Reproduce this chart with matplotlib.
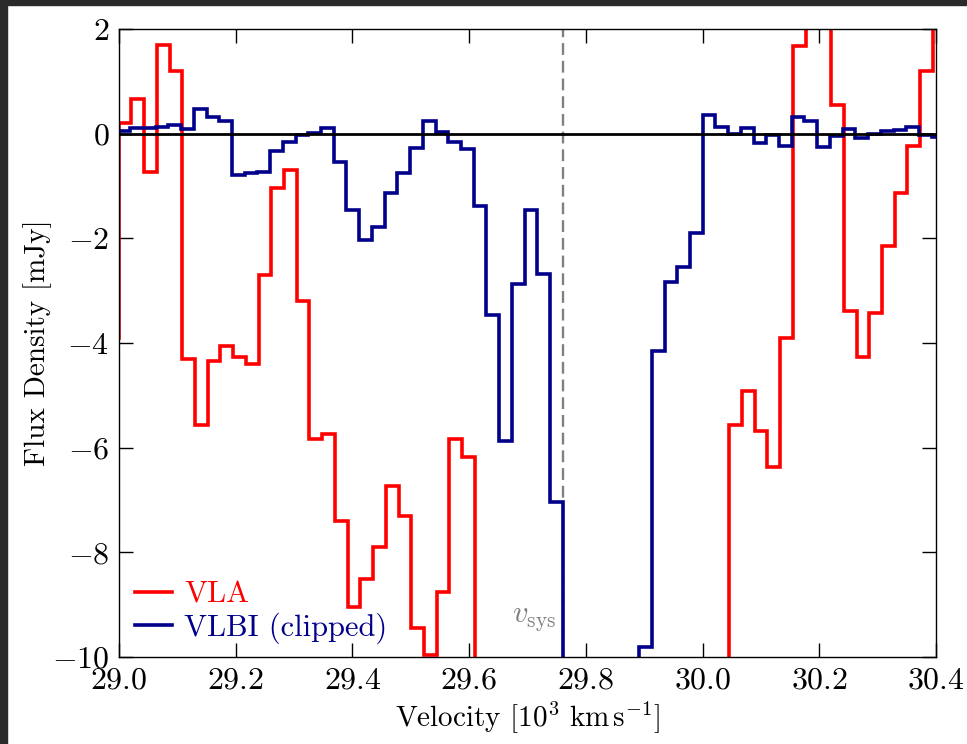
import numpy as np
import matplotlib
matplotlib.use("Agg")
import matplotlib.pyplot as plt
from matplotlib.patches import Rectangle

plt.rcParams['font.family'] = 'serif'
plt.rcParams['font.serif'] = ['cmr10', 'DejaVu Serif']
plt.rcParams['mathtext.fontset'] = 'cm'
plt.rcParams['axes.formatter.use_mathtext'] = True

# channel grid (10^3 km/s)
chan_width = 0.0218
vlbi_start = 28.9974
vla_start = vlbi_start - chan_width + 0.002

# VLA spectrum (mJy), values below -10 / above 2 are off the plot
vla_flux = [-3.90, 0.20, 0.67, -0.73, 1.69, 1.20, -4.31, -5.57, -4.34, -4.05,
            -4.27, -4.41, -2.71, -1.04, -0.69, -3.20, -5.83, -5.73, -7.41, -9.04,
            -8.50, -7.90, -6.73, -7.30, -9.45, -9.96, -8.75, -5.84, -6.18,
            -11.0, -11.0, -11.0, -11.0, -11.0, -11.0, -11.0, -11.0, -11.0, -11.0,
            -11.0, -11.0, -11.0, -11.0, -11.0, -11.0, -11.0, -11.0, -11.0, -11.0,
            -5.57, -4.91, -5.69, -6.37, -3.91, 1.68, 2.50, 2.50, 0.55, -3.38,
            -4.26, -3.42, -2.15, -1.13, -0.24, 1.20, 2.50]

# VLBI spectrum (mJy), clipped below -10
vlbi_flux = [0.05, 0.10, 0.10, 0.13, 0.17, 0.09, 0.48, 0.31, 0.25, -0.79,
             -0.75, -0.73, -0.33, -0.15, -0.02, 0.02, 0.10, -0.55, -1.46, -2.03,
             -1.78, -1.13, -0.75, -0.27, 0.25, 0.04, -0.16, -0.30, -1.38, -3.47,
             -5.87, -2.87, -1.45, -2.69, -7.04,
             -11.0, -11.0, -11.0, -11.0, -11.0, -11.0,
             -9.80, -4.15, -2.84, -2.55, -1.90, 0.35, 0.13, -0.01, 0.10,
             -0.18, -0.03, -0.23, 0.32, 0.25, -0.25, -0.04, 0.08, -0.08, -0.01,
             0.05, 0.07, 0.13, -0.03, -0.06]

v_sys = 29.761

xticks = [29.0, 29.2, 29.4, 29.6, 29.8, 30.0, 30.2, 30.4]
yticks = [-10, -8, -6, -4, -2, 0, 2]

vla_edges = vla_start + chan_width * np.arange(len(vla_flux) + 1)
vlbi_edges = vlbi_start + chan_width * np.arange(len(vlbi_flux) + 1)

fig = plt.figure(figsize=(9.67, 7.44), dpi=100)
fig.patch.set_facecolor('white')
# dark frame strips of the screenshot
fig.patches.append(Rectangle((0, 1 - 5 / 744), 1, 5 / 744, transform=fig.transFigure,
                             color='#2a2a2a', zorder=-1))
fig.patches.append(Rectangle((0, 0), 7 / 967, 1, transform=fig.transFigure,
                             color='#2a2a2a', zorder=-1))

ax = fig.add_axes([119 / 967, 1 - 657 / 744, 817 / 967, 628 / 744])

ax.axvline(v_sys, color='#808080', lw=1.7, dashes=(5, 2.5), zorder=1)
ax.stairs(vla_flux, vla_edges, baseline=None, color='#ff0000', lw=2.6, label='VLA',
          zorder=2)
ax.stairs(vlbi_flux, vlbi_edges, baseline=None, color='#00008b', lw=2.6,
          label='VLBI (clipped)', zorder=2.5)
ax.axhline(0, color='k', lw=2.0, zorder=3)
ax.text(v_sys - 0.012, -9.28, r'$v_{\rm sys}$', color='#808080', fontsize=22,
        ha='right', va='center')

ax.set_xlim(29.0, 30.4)
ax.set_ylim(-10, 2)
ax.set_xticks(xticks)
ax.set_xticklabels(['$%.1f$' % t for t in xticks])
ax.set_yticks(yticks)
ax.set_yticklabels(['$%d$' % t for t in yticks])
ax.tick_params(direction='in', top=True, right=True, length=10, width=1,
               labelsize=23, pad=7)
for sp in ax.spines.values():
    sp.set_linewidth(1.0)

ax.set_xlabel(r'Velocity [$10^3\ \mathrm{km\,s^{-1}}$]', fontsize=21, labelpad=4)
ax.set_ylabel('Flux Density [mJy]', fontsize=21, labelpad=0)

leg = ax.legend(loc='lower left', bbox_to_anchor=(0.005, 0.002), frameon=False,
                fontsize=22, handlelength=1.2, handletextpad=0.4,
                labelspacing=0.1, borderaxespad=0.0)
for txt, col in zip(leg.get_texts(), ['#ff0000', '#00008b']):
    txt.set_color(col)

fig.savefig('out.png', dpi=100)
